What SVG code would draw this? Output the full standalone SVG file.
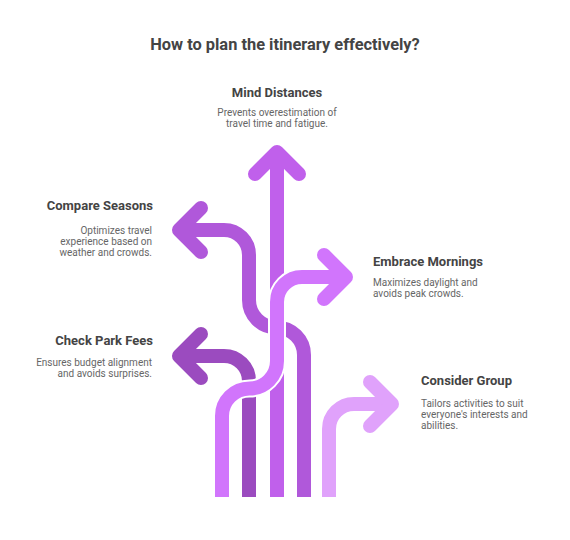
<svg xmlns="http://www.w3.org/2000/svg" width="570" height="540" viewBox="0 0 570 540">
<style>
.bg{fill:#ffffff}
.title{font-family:Roboto,"Liberation Sans",sans-serif;font-size:16.4px;font-weight:bold;fill:#444444}
.head{font-family:Roboto,"Liberation Sans",sans-serif;font-size:13px;font-weight:bold;fill:#444444}
.desc{font-family:Roboto,"Liberation Sans",sans-serif;font-size:10px;fill:#666666}
.halo{fill:none;stroke:#ffffff;stroke-width:18;stroke-linecap:butt}
.trunk{fill:none;stroke-width:14;stroke-linecap:butt;stroke-linejoin:round}
.head-arrow{fill:none;stroke-width:14;stroke-linecap:round;stroke-linejoin:round}
.c-group{stroke:#E0A2FB}
.c-fees{stroke:#9B4BBF}
.c-seasons{stroke:#B058DA}
.c-dist{stroke:#C060EB}
.c-morn{stroke:#D175FC}
</style>
<rect class="bg" x="0" y="0" width="570" height="540"/>
<text class="title" x="285" y="50" text-anchor="middle">How to plan the itinerary effectively?</text>
<g id="connectors">
  <g id="arrow-consider-group">
    <path class="halo" d="M329,497 V429 A25,25 0 0 1 354,404 H390"/>
    <path class="trunk c-group" d="M329,497 V429 A25,25 0 0 1 354,404 H390"/>
    <path class="head-arrow c-group" d="M370,382 L392,404 L370,426"/>
  </g>
  <g id="arrow-check-park-fees">
    <path class="halo" d="M249,497 V381 A25,25 0 0 0 224,356 H180"/>
    <path class="trunk c-fees" d="M249,497 V381 A25,25 0 0 0 224,356 H180"/>
    <path class="head-arrow c-fees" d="M201,334 L179,356 L201,378"/>
  </g>
  <g id="arrow-compare-seasons">
    <path class="halo" d="M304,497 V355 A27.5,27.5 0 0 0 276.5,327.5 A27.5,27.5 0 0 1 249,300 V255 A25,25 0 0 0 224,230 H180"/>
    <path class="trunk c-seasons" d="M304,497 V355 A27.5,27.5 0 0 0 276.5,327.5 A27.5,27.5 0 0 1 249,300 V255 A25,25 0 0 0 224,230 H180"/>
    <path class="head-arrow c-seasons" d="M201,208 L179,230 L201,252"/>
  </g>
  <g id="arrow-mind-distances">
    <path class="halo" d="M277,497 V154"/>
    <path class="trunk c-dist" d="M277,497 V154"/>
    <path class="head-arrow c-dist" d="M255,174 L277,152 L299,174"/>
  </g>
  <g id="arrow-embrace-mornings">
    <path class="halo" d="M222,497 V416 A27.5,27.5 0 0 1 249.5,388.5 A27.5,27.5 0 0 0 277,361 V302 A25,25 0 0 1 302,277 H345"/>
    <path class="trunk c-morn" d="M222,497 V416 A27.5,27.5 0 0 1 249.5,388.5 A27.5,27.5 0 0 0 277,361 V302 A25,25 0 0 1 302,277 H345"/>
    <path class="head-arrow c-morn" d="M324,255 L346,277 L324,299"/>
  </g>
</g>
<g id="node-mind-distances">
  <text class="head" x="277" y="96.5" text-anchor="middle">Mind Distances</text>
  <text class="desc" x="277" y="116" text-anchor="middle">Prevents overestimation of</text>
  <text class="desc" x="277" y="127" text-anchor="middle">travel time and fatigue.</text>
</g>
<g id="node-compare-seasons">
  <text class="head" x="153" y="210" text-anchor="end">Compare Seasons</text>
  <text class="desc" x="152" y="234" text-anchor="end">Optimizes travel</text>
  <text class="desc" x="152" y="245" text-anchor="end">experience based on</text>
  <text class="desc" x="152" y="256" text-anchor="end">weather and crowds.</text>
</g>
<g id="node-embrace-mornings">
  <text class="head" x="373" y="266">Embrace Mornings</text>
  <text class="desc" x="373" y="286">Maximizes daylight and</text>
  <text class="desc" x="373" y="297">avoids peak crowds.</text>
</g>
<g id="node-check-park-fees">
  <text class="head" x="153" y="345" text-anchor="end">Check Park Fees</text>
  <text class="desc" x="152" y="366" text-anchor="end">Ensures budget alignment</text>
  <text class="desc" x="152" y="377" text-anchor="end">and avoids surprises.</text>
</g>
<g id="node-consider-group">
  <text class="head" x="421" y="385">Consider Group</text>
  <text class="desc" x="421" y="407">Tailors activities to suit</text>
  <text class="desc" x="421" y="418">everyone's interests and</text>
  <text class="desc" x="421" y="429">abilities.</text>
</g>
</svg>
